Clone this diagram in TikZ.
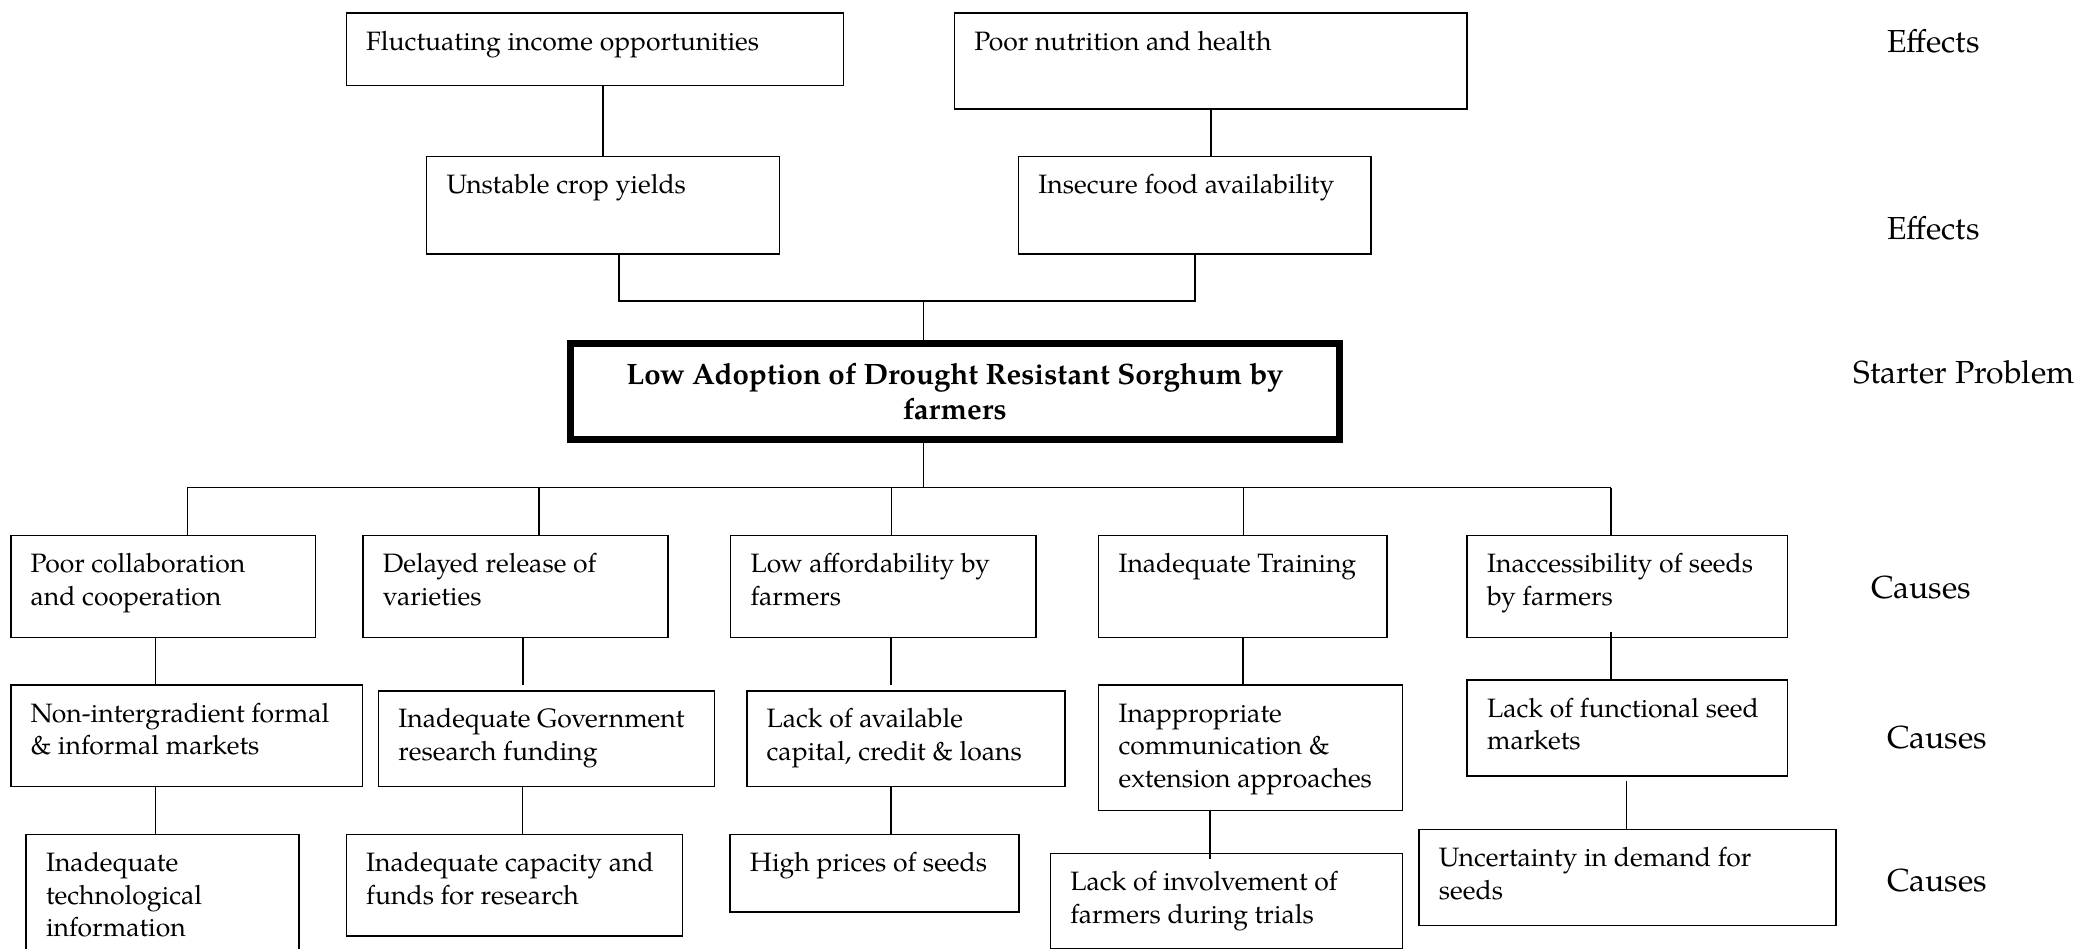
\documentclass[tikz,border=0pt]{standalone}
\usepackage{fontspec}
\setmainfont{TeX Gyre Pagella}
\usetikzlibrary{calc}

% a plain box with its text set from the top left corner
\newcommand\tbox[6]{%
  \node[cbox] (#1) at (#2,#3)
  {\parbox[c][\dimexpr #5pt-#3pt\relax][t]{\dimexpr #4pt-#2pt\relax}{%
     \raggedright\leftskip=15pt\relax\rule{0pt}{28pt}#6}};}

\tikzset{
  cbox/.style={draw, line width=1.2pt, inner sep=0pt, outer sep=0pt, anchor=north west},
  corebox/.style={draw, line width=5.5pt, inner sep=0pt, outer sep=0pt, align=center,
    minimum width=579.1pt, minimum height=72.4pt,
    font=\fontsize{22.2}{26.3}\selectfont\bfseries},
  link/.style={line width=1.1pt},
  side/.style={anchor=base west, inner sep=0pt, font=\fontsize{24}{29}\selectfont},
}

\begin{document}
\begin{tikzpicture}[x=1pt, y=-1pt, font=\fontsize{20}{24.5}\selectfont]
\fill[white] (0,0) rectangle (1568,714.7);
\useasboundingbox (0,0) rectangle (1568,714.7);

% effects
\tbox{fluct}{260.8}{9.8}{635.1}{64.5}{Fluctuating income opportunities}
\tbox{poor}{718.8}{9.8}{1105}{82.3}{Poor nutrition and health}
\tbox{unst}{321.3}{118}{587.1}{191.3}{Unstable crop yields}
\tbox{insec}{767.1}{118}{1032.7}{191.3}{Insecure food availability}

% starter problem
\node[corebox] (core) at (719.1,294.95) {Low Adoption of Drought Resistant Sorghum by\\farmers};

% causes, first level
\tbox{c1}{8.1}{403.4}{237.6}{480.2}{Poor collaboration\\and cooperation}
\tbox{c2}{273.4}{403.4}{502.9}{480.2}{Delayed release of\\varieties}
\tbox{c3}{550.3}{403.4}{780.4}{480.2}{Low affordability by\\farmers}
\tbox{c4}{827.4}{403.4}{1044.7}{480.2}{Inadequate Training}
\tbox{c5}{1105}{403.4}{1346.1}{480.2}{Inaccessibility of seeds\\by farmers}

% causes, second level
\tbox{d1}{8.1}{515.9}{272.9}{592.4}{Non-intergradient formal\\\& informal markets}
\tbox{d2}{285}{520.2}{538.2}{592.4}{Inadequate Government\\research funding}
\tbox{d3}{562.4}{520.2}{802}{592.4}{Lack of available\\capital, credit \& loans}
\tbox{d4}{827.4}{515.9}{1056.1}{610.5}{Inappropriate\\communication \&\\extension approaches}
\tbox{d5}{1105}{512.1}{1346.1}{584.2}{Lack of functional seed\\markets}

% causes, third level
\tbox{e1}{19.7}{628.4}{225}{730}{Inadequate\\technological\\information}
\tbox{e2}{260.8}{628.4}{514}{704.9}{Inadequate capacity and\\funds for research}
\tbox{e3}{549.8}{628.4}{767.3}{686.8}{High prices of seeds}
\tbox{e4}{791.1}{642.7}{1056.1}{714.2}{Lack of involvement of\\farmers during trials}
\tbox{e5}{1068.6}{624.6}{1382.5}{696.9}{Uncertainty in demand for\\seeds}

% level labels
\node[side] (l1) at (1421,39.7) {Effects};
\node[side] (l2) at (1421,180.7) {Effects};
\node[side] (l3) at (1396,288.7) {Starter Problem};
\node[side] (l4) at (1409,451.1) {Causes};
\node[side] (l5) at (1421,563.6) {Causes};
\node[side] (l6) at (1421,671.5) {Causes};

% connectors above the starter problem
\draw[link] (unst.north) -- (unst.north |- fluct.south);
\draw[link] (poor.south) -- (poor.south |- insec.north);
\coordinate (tj) at (695.6,226.7);
\draw[link] ([xshift=12pt]unst.south) |- (tj) -| (insec.south);
\draw[link] (tj) -- (tj |- core.north);

% connectors below the starter problem
\coordinate (bj) at (695.6,367.3);
\coordinate (b1) at (141.2,367.3);
\coordinate (b2) at (406.1,367.3);
\coordinate (b3) at (671.4,367.3);
\coordinate (b4) at (936.3,367.3);
\coordinate (b5) at (1213.1,367.3);
\draw[link] (core.south -| bj) -- (bj);
\draw[link] (b1) -- (b5);
\draw[link] (b1) -- (b1 |- c1.north);
\draw[link] (b2) -- (b2 |- c2.north);
\draw[link] (b3) -- (b3 |- c3.north);
\draw[link] (b4) -- (b4 |- c4.north);
\draw[link] (b5) -- (b5 |- c5.north);

% first to second level
\draw[link] (117,0 |- c1.south) -- (117,0 |- d1.north);
\draw[link] (394,0 |- c2.south) -- ++(0,36);
\draw[link] (671,0 |- c3.south) -- ++(0,36);
\draw[link] (936.1,0 |- c4.south) -- (936.1,0 |- d4.north);
\draw[link] (1213.1,0 |- c5.south) ++(0,-4.5) -- (1213.1,0 |- d5.north);

% second to third level
\draw[link] (117,0 |- d1.south) -- (117,0 |- e1.north);
\draw[link] (393.5,0 |- d2.south) -- (393.5,0 |- e2.north);
\draw[link] (671,0 |- d3.south) -- (671,0 |- e3.north);
\draw[link] (911.1,0 |- d4.south) -- ([yshift=-4.5pt]911.1,0 |- e4.north);
\draw[link] (1225,0 |- d5.south) ++(0,4) -- (1225,0 |- e5.north);
\end{tikzpicture}
\end{document}
